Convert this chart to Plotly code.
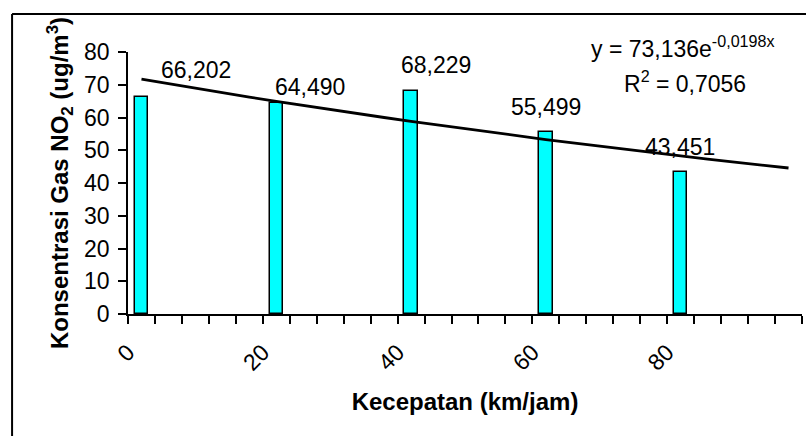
import numpy as np
import plotly.graph_objects as go

# Data
speeds = [0, 20, 40, 60, 80]            # km/jam (category start)
no2 = [66.202, 64.490, 68.229, 55.499, 43.451]
labels = ["66,202", "64,490", "68,229", "55,499", "43,451"]
trend_a = 73.136
trend_b = -0.0198
n_categories = 25
category_step = 4
tick_values = list(range(0, 101, 4))
tick_texts = [str(v) if (v % 20 == 0 and v < 100) else "" for v in tick_values]

# label offsets (pixels) as placed in the reference
label_dx = [55, 34, 25, 0, -1]
label_dy = [27, 16, 26, 25, 25]

FONT = "Liberation Sans, Arial, sans-serif"
TXT = 23

fig = go.Figure()
fig.add_trace(go.Bar(
    x=speeds, y=no2, offset=1, width=2,
    marker=dict(color="#00FFFF", line=dict(color="black", width=1.5)),
    showlegend=False, hoverinfo="y"))

k = np.arange(1, n_categories + 1)
trend_x = category_step * k - category_step / 2
trend_y = trend_a * np.exp(trend_b * k)
fig.add_trace(go.Scatter(x=trend_x, y=trend_y, mode="lines",
                         line=dict(color="black", width=2.8),
                         showlegend=False, hoverinfo="skip"))

for xv, yv, t, dx, dy in zip(speeds, no2, labels, label_dx, label_dy):
    fig.add_annotation(x=xv + 2, y=yv, text=t, showarrow=False,
                       xanchor="center", yanchor="middle",
                       xshift=dx, yshift=dy,
                       font=dict(family=FONT, size=TXT, color="black"))

fig.add_annotation(xref="paper", yref="paper", x=0.824, y=1.02,
                   text="y = 73,136e<sup>-0,0198x</sup>", showarrow=False,
                   xanchor="center", yanchor="middle",
                   font=dict(family=FONT, size=TXT, color="black"))
fig.add_annotation(xref="paper", yref="paper", x=0.826, y=0.886,
                   text="R<sup>2</sup> = 0,7056", showarrow=False,
                   xanchor="center", yanchor="middle",
                   font=dict(family=FONT, size=TXT, color="black"))

# outer chart frame (top and left edges visible in the crop)
fig.add_shape(type="line", xref="paper", yref="paper",
              x0=-0.172, y0=1.145, x1=1.5, y1=1.145,
              line=dict(color="black", width=2))
fig.add_shape(type="line", xref="paper", yref="paper",
              x0=-0.172, y0=1.145, x1=-0.172, y1=-1.0,
              line=dict(color="black", width=2))

fig.update_layout(
    width=806, height=436,
    margin=dict(l=128, r=4, t=52, b=122),
    paper_bgcolor="white", plot_bgcolor="white",
    font=dict(family=FONT, color="black"),
    bargap=0,
    xaxis=dict(range=[0, 100], tickmode="array", tickvals=tick_values,
               ticktext=tick_texts, tickangle=-45,
               ticks="outside", ticklen=8, tickwidth=1.5, tickcolor="black",
               ticklabelstandoff=6,
               showline=True, linecolor="black", linewidth=1.5,
               showgrid=False, zeroline=False,
               tickfont=dict(family=FONT, size=TXT, color="black"),
               title=dict(text="<b>Kecepatan (km/jam)</b>", standoff=19,
                          font=dict(family=FONT, size=24, color="black"))),
    yaxis=dict(range=[0, 80], dtick=10,
               ticks="outside", ticklen=8, tickwidth=1.5, tickcolor="black",
               ticklabelstandoff=4,
               showline=True, linecolor="black", linewidth=1.5,
               showgrid=False, zeroline=False,
               tickfont=dict(family=FONT, size=TXT, color="black"),
               title=dict(text="<b>Konsentrasi Gas NO<sub>2</sub> (ug/m<sup>3</sup>)</b>",
                          standoff=9,
                          font=dict(family=FONT, size=24, color="black"))),
)

fig.write_html("out.html", config={"displayModeBar": False})
